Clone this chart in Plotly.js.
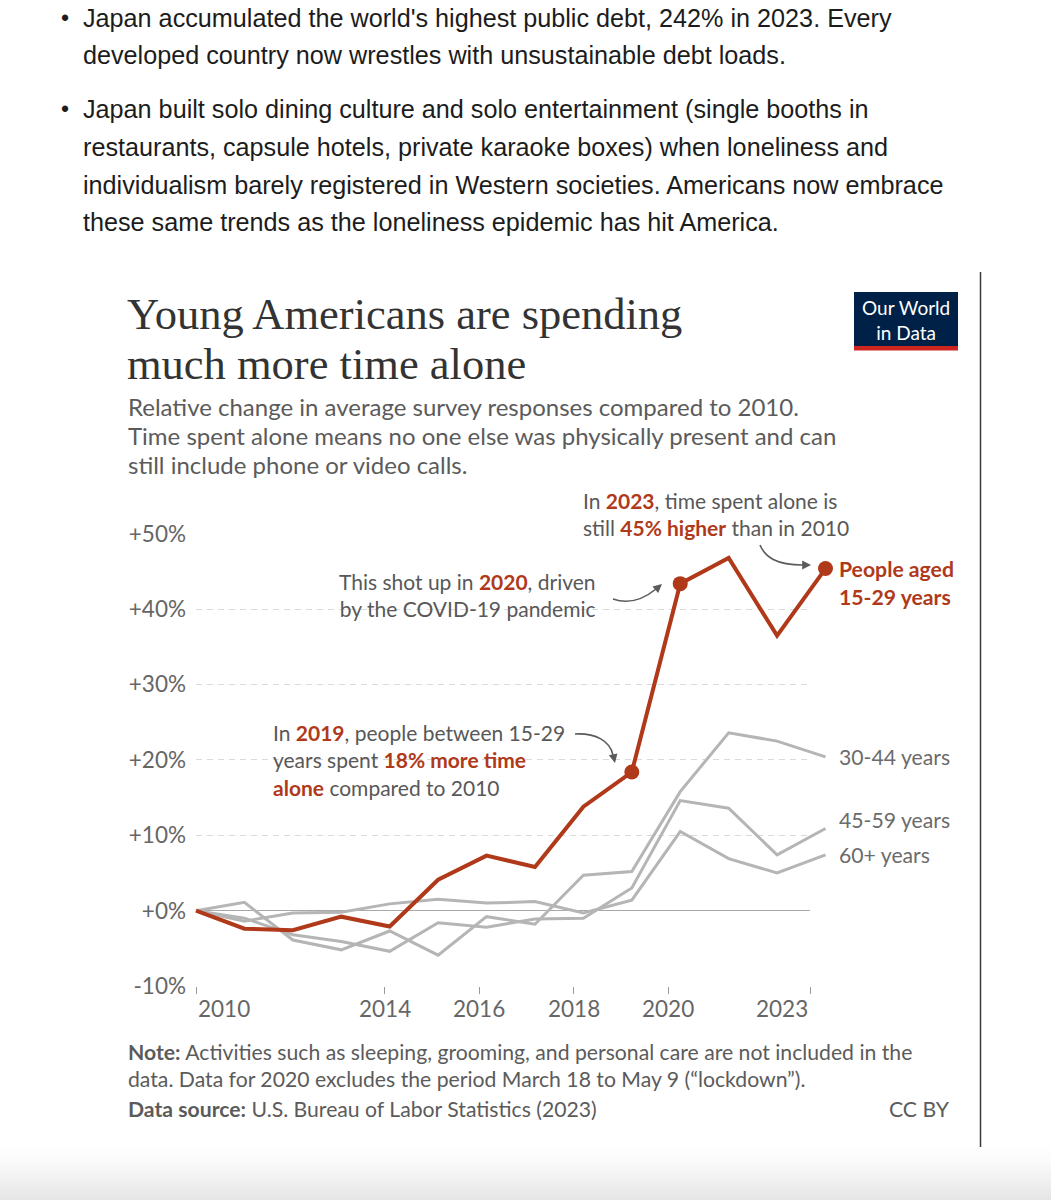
<!DOCTYPE html>
<html>
<head>
<meta charset="utf-8">
<script src="https://cdn.plot.ly/plotly-3.0.1.min.js"></script>
<style>
  html, body { margin: 0; padding: 0; }
  body { width: 1051px; height: 1200px; background: linear-gradient(to bottom, #ffffff 0px, #ffffff 1145px, #fbfbfb 1160px, #e6e6e6 1200px); }
  #chart { width: 1051px; height: 1200px; }
</style>
</head>
<body>
<div id="chart"></div>
<script>
// ---------------- data ----------------
const years = [2010, 2011, 2012, 2013, 2014, 2015, 2016, 2017, 2018, 2019, 2020, 2021, 2022, 2023];
const age15_29 = [0, -2.4, -2.6, -0.8, -2.1, 4.1, 7.3, 5.8, 13.8, 18.4, 43.4, 46.8, 36.5, 45.4];
const age30_44 = [0, 1.1, -3.9, -5.2, -2.7, -5.9, -0.8, -1.8, 4.7, 5.2, 15.8, 23.6, 22.5, 20.4];
const age45_59 = [0, -1.0, -3.2, -4.1, -5.4, -1.6, -2.2, -1.1, -1.0, 3.0, 14.6, 13.6, 7.4, 10.9];
const age60plus = [0, -1.4, -0.3, -0.2, 0.9, 1.5, 1.0, 1.2, -0.3, 1.4, 10.5, 6.9, 5.0, 7.4];
const highlightYears = [2019, 2020, 2023];
const yTickVals = [-10, 0, 10, 20, 30, 40, 50];
const yTickText = ['-10%', '+0%', '+10%', '+20%', '+30%', '+40%', '+50%'];
const xTickVals = [2010, 2014, 2016, 2018, 2020, 2023];
const xTickText = ['2010', '2014', '2016', '2018', '2020', '2023'];

// ---------------- helpers ----------------
const W = 1051, H = 1200;
const X = px => px / W;
const Y = py => 1 - py / H;
const RED = '#b0391a';
const GREY_LINE = '#b5b5b5';
const TXT = '#585858';
const LATO = 'Lato, "Noto Sans", sans-serif';
const red = s => `<span style="color:${RED}"><b>${s}</b></span>`;

// plot geometry (pixels)
const yTopPx = 533.9, yBotPx = 986;        // +50% and -10%
const tickLeft = 196, tickRight = 810;     // axis 2010..2023 for ticks / grid
const dataLeft = 196, dataRight = 825.5;   // where data 2010..2023 land
const pxPerYear = (dataRight - dataLeft) / 13;
const pad = 0.1;

const traces = [];
// empty trace to establish the tick/grid subplot
traces.push({x: [], y: [], type: 'scatter', xaxis: 'x', yaxis: 'y', hoverinfo: 'skip', showlegend: false});

const greyOpts = {type: 'scatter', mode: 'lines', xaxis: 'x2', yaxis: 'y2', showlegend: false,
  line: {color: GREY_LINE, width: 3}, hoverinfo: 'skip'};
traces.push(Object.assign({}, greyOpts, {x: years, y: age60plus, name: '60+ years'}));
traces.push(Object.assign({}, greyOpts, {x: years, y: age45_59, name: '45-59 years'}));
traces.push(Object.assign({}, greyOpts, {x: years, y: age30_44, name: '30-44 years'}));
traces.push({type: 'scatter', mode: 'lines', xaxis: 'x2', yaxis: 'y2', showlegend: false,
  x: years, y: age15_29, name: '15-29 years', line: {color: RED, width: 4}, hoverinfo: 'skip'});
traces.push({type: 'scatter', mode: 'markers', xaxis: 'x2', yaxis: 'y2', showlegend: false,
  x: highlightYears, y: highlightYears.map(yr => age15_29[years.indexOf(yr)]),
  marker: {color: RED, size: 15}, cliponaxis: false, hoverinfo: 'skip'});

const ann = [];
function txt(text, x, y, size, opts) {
  opts = opts || {};
  ann.push({xref: 'paper', yref: 'paper', x: X(x), y: Y(y), text: text, showarrow: false,
    xanchor: opts.xanchor || 'left', yanchor: 'middle', align: opts.align || opts.xanchor || 'left',
    font: {family: opts.family || LATO, size: size, color: opts.color || TXT}});
}

// page bullet text
const SANS = '"Liberation Sans", Arial, sans-serif';
const bulletLines = [
  ['Japan accumulated the world\'s highest public debt, 242% in 2023. Every', 18, true],
  ['developed country now wrestles with unsustainable debt loads.', 55, false],
  ['Japan built solo dining culture and solo entertainment (single booths in', 109, true],
  ['restaurants, capsule hotels, private karaoke boxes) when loneliness and', 147, false],
  ['individualism barely registered in Western societies. Americans now embrace', 185, false],
  ['these same trends as the loneliness epidemic has hit America.', 222, false]
];
bulletLines.forEach(b => {
  txt(b[0], 81, b[1], 25.2, {family: SANS, color: '#1c1c1c'});
  if (b[2]) txt('•', 65, b[1], 23, {family: SANS, color: '#1c1c1c', xanchor: 'center'});
});

// title + subtitle
const SERIF = '"Liberation Serif", "DejaVu Serif", serif';
txt('Young Americans are spending', 125, 313.5, 44.5, {family: SERIF, color: '#333333'});
txt('much more time alone', 125, 364, 44.5, {family: SERIF, color: '#333333'});
txt('Relative change in average survey responses compared to 2010.', 126, 406, 24, {color: '#5b5b5b'});
txt('Time spent alone means no one else was physically present and can', 126, 435, 24, {color: '#5b5b5b'});
txt('still include phone or video calls.', 126, 464, 24, {color: '#5b5b5b'});

// logo
txt('Our World<br>in Data', 906, 320, 19, {color: '#ffffff', xanchor: 'center'});

// chart annotations
txt('In ' + red('2023') + ', time spent alone is<br>still ' + red('45% higher') + ' than in 2010', 581, 514, 21);
txt('This shot up in ' + red('2020') + ', driven<br>by the COVID-19 pandemic', 598, 595, 21, {xanchor: 'right'});
txt('In ' + red('2019') + ', people between 15-29<br>years spent ' + red('18% more time') + '<br>' + red('alone') + ' compared to 2010', 271, 760, 21);

// line labels
txt(red('People aged<br>15-29 years'), 837, 583, 21.2);
txt('30-44 years', 837, 757, 21.2, {color: '#6b6b6b'});
txt('45-59 years', 837, 820, 21.2, {color: '#6b6b6b'});
txt('60+ years', 837, 855, 21.2, {color: '#6b6b6b'});

// x tick labels (first left-aligned, last right-aligned, like the source)
xTickVals.forEach((v, i) => {
  const anchor = i === 0 ? 'left' : (i === xTickVals.length - 1 ? 'right' : 'center');
  ann.push({xref: 'x', yref: 'paper', x: v, y: Y(1008), text: xTickText[i], showarrow: false,
    xanchor: anchor, yanchor: 'middle', font: {family: LATO, size: 22.5, color: '#666666'}});
});

// footer
txt('<b>Note:</b> Activities such as sleeping, grooming, and personal care are not included in the', 126, 1052, 21.2, {color: '#5b5b5b'});
txt('data. Data for 2020 excludes the period March 18 to May 9 (“lockdown”).', 126, 1079, 21.2, {color: '#5b5b5b'});
txt('<b>Data source:</b> U.S. Bureau of Labor Statistics (2023)', 126, 1109, 21.2, {color: '#5b5b5b'});
txt('CC BY', 952, 1109, 21.2, {color: '#5b5b5b', xanchor: 'right'});

// arrowheads
function head(x, y, ax, ay) {
  ann.push({xref: 'paper', yref: 'paper', x: X(x), y: Y(y), ax: ax, ay: ay, text: '', showarrow: true,
    arrowhead: 2, arrowsize: 1.1, arrowwidth: 1.6, arrowcolor: '#5b5b5b', standoff: 0});
}
head(811, 565, -9, 0);
head(662, 584, -7, 6);
head(615, 763, -2, -9);

// shapes
const P = (x, y) => `${X(x)},${Y(y)}`;
const shapes = [
  {type: 'rect', xref: 'paper', yref: 'paper', x0: X(854), x1: X(958), y0: Y(346), y1: Y(292),
    fillcolor: '#002147', line: {width: 0}},
  {type: 'rect', xref: 'paper', yref: 'paper', x0: X(854), x1: X(958), y0: Y(350.5), y1: Y(346),
    fillcolor: '#ce261e', line: {width: 0}},
  {type: 'line', xref: 'paper', yref: 'paper', x0: X(980.5), x1: X(980.5), y0: Y(272), y1: Y(1147),
    line: {color: '#3a3a3a', width: 1.5}},
  {type: 'path', xref: 'paper', yref: 'paper', path: `M${P(760, 545)} C${P(765, 557)} ${P(776, 565)} ${P(803, 565)}`,
    line: {color: '#5b5b5b', width: 1.6}},
  {type: 'path', xref: 'paper', yref: 'paper', path: `M${P(613, 599)} C${P(630, 605)} ${P(645, 598)} ${P(656, 589)}`,
    line: {color: '#5b5b5b', width: 1.6}},
  {type: 'path', xref: 'paper', yref: 'paper', path: `M${P(575, 734)} C${P(596, 733)} ${P(610, 741)} ${P(613, 755)}`,
    line: {color: '#5b5b5b', width: 1.6}}
];

const yDomain = [Y(yBotPx), Y(yTopPx)];
const layout = {
  width: W, height: H, autosize: false,
  margin: {l: 0, r: 0, t: 0, b: 0, pad: 0},
  paper_bgcolor: 'rgba(0,0,0,0)', plot_bgcolor: 'rgba(0,0,0,0)',
  showlegend: false,
  xaxis: {domain: [X(tickLeft), X(tickRight)], range: [2010, 2023], anchor: 'y',
    tickvals: xTickVals, showticklabels: false, ticks: 'outside', ticklen: 7, tickwidth: 1, tickcolor: '#999999',
    showgrid: false, zeroline: false, showline: false, fixedrange: true},
  yaxis: {domain: yDomain, range: [-10, 50], anchor: 'x',
    tickvals: yTickVals, ticktext: yTickText, ticks: '', ticklabelstandoff: 9,
    tickfont: {family: LATO, size: 22.5, color: '#666666'},
    showgrid: true, gridcolor: '#dadada', gridwidth: 1, griddash: '6px,5px',
    zeroline: true, zerolinecolor: '#a8a8a8', zerolinewidth: 1.5, showline: false, fixedrange: true},
  xaxis2: {domain: [X(dataLeft - pad * pxPerYear), X(dataRight + pad * pxPerYear)], range: [2010 - pad, 2023 + pad],
    anchor: 'y2', visible: false, fixedrange: true},
  yaxis2: {domain: yDomain, range: [-10, 50], anchor: 'x2', visible: false, fixedrange: true},
  annotations: ann,
  shapes: shapes
};

Plotly.newPlot('chart', traces, layout, {displayModeBar: false, staticPlot: true});
</script>
</body>
</html>
